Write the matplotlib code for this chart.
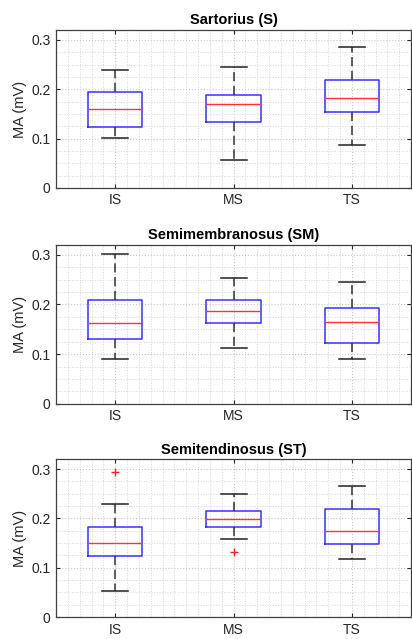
import numpy as np
import matplotlib
matplotlib.use('Agg')
import matplotlib.pyplot as plt
from matplotlib.ticker import MultipleLocator

plt.rcParams['font.family'] = ['Liberation Sans', 'DejaVu Sans']

groups = ['IS', 'MS', 'TS']
titles = ['Sartorius (S)', 'Semimembranosus (SM)', 'Semitendinosus (ST)']

# box stats: lower whisker, Q1, median, Q3, upper whisker
whislo = [[0.101, 0.056, 0.086], [0.091, 0.112, 0.091], [0.053, 0.1575, 0.1175]]
q1 = [[0.123, 0.134, 0.154], [0.130, 0.163, 0.122], [0.124, 0.183, 0.149]]
med = [[0.160, 0.170, 0.182], [0.163, 0.187, 0.165], [0.150, 0.1996, 0.1745]]
q3 = [[0.195, 0.188, 0.219], [0.209, 0.209, 0.193], [0.182, 0.2145, 0.219]]
whishi = [[0.239, 0.245, 0.286], [0.302, 0.254, 0.246], [0.230, 0.250, 0.2655]]
fliers = [[[], [], []], [[], [], []], [[0.295], [0.131], []]]

fig = plt.figure(figsize=(4.12, 6.39), dpi=100)
positions = [[0.136, 0.706, 0.862, 0.247],
             [0.136, 0.368, 0.862, 0.249],
             [0.136, 0.0344, 0.862, 0.247]]

for p in range(3):
    ax = fig.add_axes(positions[p])
    stats = []
    for i, g in enumerate(groups):
        stats.append({'label': g, 'whislo': whislo[p][i], 'q1': q1[p][i],
                      'med': med[p][i], 'q3': q3[p][i], 'whishi': whishi[p][i],
                      'fliers': fliers[p][i]})
    ax.bxp(stats, positions=[1, 2, 3], widths=0.46, capwidths=0.22,
           showfliers=True,
           boxprops=dict(color='#3333ff', linewidth=1.1),
           medianprops=dict(color='#ff3333', linewidth=1.0),
           whiskerprops=dict(color='#333333', linewidth=1.1, linestyle=(0, (6, 3))),
           capprops=dict(color='#222222', linewidth=1.1),
           flierprops=dict(marker='+', markeredgecolor='#ff2222', markersize=5.5,
                           linestyle='none'))
    ax.set_xlim(0.5, 3.5)
    ax.set_ylim(0, 0.32)
    ax.set_yticks([0, 0.1, 0.2, 0.3])
    ax.set_yticklabels(['0', '0.1', '0.2', '0.3'])
    ax.yaxis.set_minor_locator(MultipleLocator(0.025))
    ax.xaxis.set_minor_locator(MultipleLocator(0.1))
    ax.grid(which='major', color='#c8c8c8', linestyle=':', linewidth=0.8)
    ax.grid(which='minor', color='#d8d8d8', linestyle=':', linewidth=0.7)
    ax.set_axisbelow(True)
    ax.tick_params(which='major', direction='in', length=3, top=True, right=True,
                   labelsize=10, colors='#262626', width=0.8, pad=4)
    ax.tick_params(which='minor', length=0)
    for s in ax.spines.values():
        s.set_color('#404040')
        s.set_linewidth(0.9)
    ax.set_ylabel('MA (mV)', fontsize=10.5, color='#262626', labelpad=3)
    ax.set_title(titles[p], fontsize=10.5, fontweight='bold', pad=4)

fig.savefig('out.png', dpi=100)
